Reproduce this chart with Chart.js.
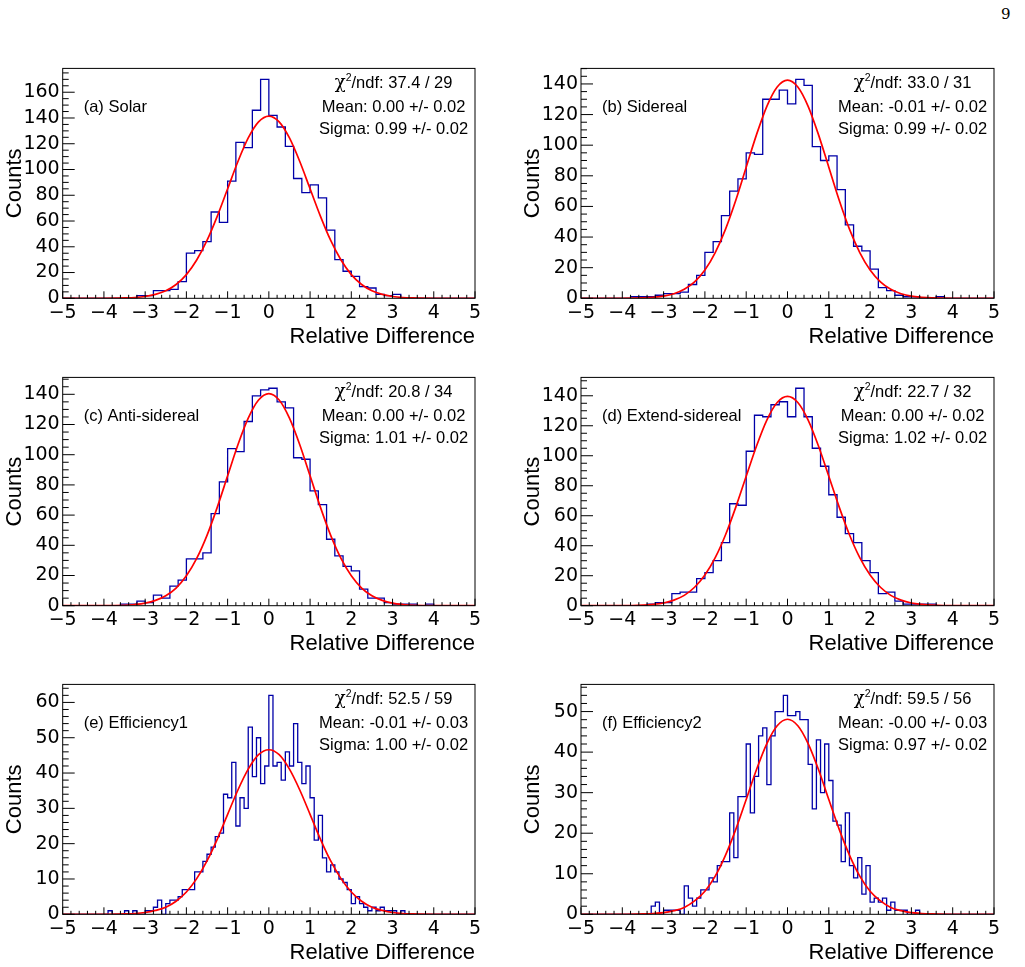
<!DOCTYPE html>
<html>
<head>
<meta charset="utf-8">
<script src="https://cdn.jsdelivr.net/npm/chart.js@4.4.1/dist/chart.umd.min.js"></script>
<style>
  html, body { margin: 0; padding: 0; background: #fff; }
  body { width: 1025px; height: 967px; position: relative; overflow: hidden; }
  canvas { position: absolute; }
  #pagenum { position: absolute; left: 1001px; top: 5px; font: 15px "DejaVu Serif", "Liberation Serif", serif; }
</style>
</head>
<body>
<div id="pagenum">9</div>
<script>
// histogram range, all panels
const xRange = [-5, 5];

// counts per bin (50 bins of 0.2 for a-d, 100 bins of 0.1 for e-f)
const solarCounts = [
  0, 0, 0, 0, 0, 0, 0, 0, 0, 2,
  2, 6, 6, 7, 13, 35, 37, 44, 67, 59,
  91, 121, 117, 146, 170, 142, 133, 118, 93, 82,
  88, 78, 53, 30, 21, 17, 9, 8, 3, 2,
  3, 0, 0, 0, 0, 0, 0, 0, 0, 0
];
const siderealCounts = [
  0, 0, 0, 0, 0, 0, 1, 1, 1, 2,
  3, 3, 4, 9, 15, 30, 37, 54, 70, 78,
  95, 94, 130, 130, 136, 127, 143, 139, 99, 90,
  93, 71, 48, 34, 31, 19, 7, 5, 2, 1,
  1, 0, 0, 1, 0, 0, 0, 0, 0, 0
];
const antiCounts = [
  0, 0, 0, 0, 0, 0, 0, 1, 1, 3,
  2, 7, 5, 13, 17, 31, 31, 35, 61, 82,
  104, 102, 122, 139, 143, 144, 135, 131, 98, 97,
  76, 67, 44, 33, 26, 23, 11, 5, 5, 2,
  1, 1, 1, 0, 1, 0, 0, 0, 0, 0
];
const extendCounts = [
  0, 0, 0, 0, 0, 0, 0, 0, 1, 2,
  2, 8, 9, 9, 18, 22, 30, 42, 68, 67,
  103, 127, 126, 134, 136, 126, 145, 126, 105, 93,
  74, 59, 48, 42, 30, 22, 8, 9, 3, 1,
  1, 1, 1, 0, 0, 0, 0, 0, 0, 0
];
const eff1Counts = [
  0, 0, 0, 0, 0, 0, 0, 0, 0, 0,
  0, 1, 0, 0, 0, 1, 0, 1, 0, 0,
  1, 1, 2, 4, 0, 3, 4, 4, 5, 7,
  7, 7, 12, 12, 15, 17, 19, 22, 23, 34,
  33, 43, 25, 33, 30, 53, 39, 50, 37, 42,
  62, 42, 43, 38, 46, 42, 54, 43, 37, 42,
  33, 21, 28, 16, 12, 14, 12, 10, 9, 7,
  3, 5, 3, 2, 1, 2, 1, 2, 1, 1,
  1, 0, 1, 0, 0, 0, 0, 0, 0, 0,
  0, 0, 0, 0, 0, 0, 0, 0, 0, 0
];
const eff2Counts = [
  0, 0, 0, 0, 0, 0, 0, 0, 0, 0,
  0, 0, 0, 0, 0, 0, 0, 2, 3, 0,
  1, 1, 1, 1, 0, 7, 4, 2, 4, 6,
  6, 9, 8, 12, 13, 13, 25, 14, 29, 29,
  42, 25, 34, 44, 46, 32, 44, 50, 50, 54,
  49, 49, 50, 48, 48, 37, 26, 43, 30, 42,
  33, 23, 22, 13, 25, 12, 9, 14, 5, 12,
  3, 4, 3, 4, 1, 3, 1, 1, 1, 0,
  0, 1, 0, 0, 0, 0, 0, 0, 0, 0,
  0, 0, 0, 0, 0, 0, 0, 0, 0, 0
];

// red fit curves at these x
const fitX = [-5, -4, -3.5, -3.25, -3, -2.75, -2.5, -2.25, -2, -1.75, -1.5, -1.25, -1, -0.75, -0.5, -0.25,
  0, 0.25, 0.5, 0.75, 1, 1.25, 1.5, 1.75, 2, 2.25, 2.5, 2.75, 3, 3.25, 3.5, 4, 5];
const solarFit = [0, 0, 0.3, 0.6, 1.4, 3.0, 5.8, 10.7, 18.4, 29.7, 44.9, 63.8, 85.0, 106.2, 124.5, 137.0,
  141.5, 137.0, 124.5, 106.2, 85.0, 63.8, 44.9, 29.7, 18.4, 10.7, 5.8, 3.0, 1.4, 0.6, 0.3, 0, 0];
const siderealFit = [0, 0, 0.3, 0.7, 1.4, 3.0, 5.9, 10.8, 18.5, 29.9, 45.2, 64.2, 85.6, 106.9, 125.4, 138.0,
  142.5, 138.0, 125.4, 106.9, 85.6, 64.2, 45.2, 29.9, 18.5, 10.8, 5.9, 3.0, 1.4, 0.7, 0.3, 0, 0];
const antiFit = [0, 0, 0.3, 0.8, 1.7, 3.5, 6.6, 11.7, 19.8, 31.3, 46.6, 65.3, 86.0, 106.6, 124.2, 136.2,
  140.4, 136.2, 124.2, 106.6, 86.0, 65.3, 46.6, 31.3, 19.8, 11.7, 6.6, 3.5, 1.7, 0.8, 0.3, 0, 0];
const extendFit = [0, 0, 0.4, 0.9, 1.8, 3.7, 6.9, 12.3, 20.4, 32.0, 47.3, 65.9, 86.3, 106.5, 123.8, 135.5,
  139.6, 135.5, 123.8, 106.5, 86.3, 65.9, 47.3, 32.0, 20.4, 12.3, 6.9, 3.7, 1.8, 0.9, 0.4, 0, 0];
const eff1Fit = [0, 0, 0.1, 0.2, 0.5, 1.1, 2.0, 3.7, 6.3, 10.1, 15.1, 21.3, 28.3, 35.2, 41.1, 45.2,
  46.6, 45.2, 41.1, 35.2, 28.3, 21.3, 15.1, 10.1, 6.3, 3.7, 2.0, 1.1, 0.5, 0.2, 0.1, 0, 0];
const eff2Fit = [0, 0, 0.1, 0.2, 0.4, 0.9, 1.7, 3.3, 5.7, 9.4, 14.6, 21.0, 28.3, 35.7, 42.1, 46.5,
  48.1, 46.5, 42.1, 35.7, 28.3, 21.0, 14.6, 9.4, 5.7, 3.3, 1.7, 0.9, 0.4, 0.2, 0.1, 0, 0];

// texts
const panelLabels = ['(a) Solar', '(b) Sidereal', '(c) Anti-sidereal', '(d) Extend-sidereal', '(e) Efficiency1', '(f) Efficiency2'];
const chiNdf = ['37.4 / 29', '33.0 / 31', '20.8 / 34', '22.7 / 32', '52.5 / 59', '59.5 / 56'];
const meanText = ['0.00 +/- 0.02', '-0.01 +/- 0.02', '0.00 +/- 0.02', '0.00 +/- 0.02', '-0.01 +/- 0.03', '-0.00 +/- 0.03'];
const sigmaText = ['0.99 +/- 0.02', '0.99 +/- 0.02', '1.01 +/- 0.02', '1.02 +/- 0.02', '1.00 +/- 0.02', '0.97 +/- 0.02'];

// y axes
const yMaxes = [178.5, 150.15, 151.2, 152.25, 65.1, 56.7];
const yMajor = [20, 20, 20, 20, 10, 10];
const yMinor = [5, 5, 5, 5, 2, 2];

const allCounts = [solarCounts, siderealCounts, antiCounts, extendCounts, eff1Counts, eff2Counts];
const allFits = [solarFit, siderealFit, antiFit, extendFit, eff1Fit, eff2Fit];

// page geometry
const cols = [
  { left: 0, plotLeft: 62.7, plotRight: 475, titlePad: 2 },
  { left: 515, plotLeft: 581, plotRight: 994, titlePad: 5 }
];
const rows = [
  { top: 66.7, bottom: 298.3 },
  { top: 375, bottom: 605.7 },
  { top: 682.3, bottom: 914.3 }
];
const canvasW = 505;
const xAxisH = 51.7;

const FONT = '"Liberation Sans", Arial, Helvetica, sans-serif';
const TICKFONT = '"DejaVu Sans", "Liberation Sans", sans-serif';
Chart.defaults.font.family = FONT;
Chart.defaults.color = '#000';

function histPoints(counts) {
  const w = (xRange[1] - xRange[0]) / counts.length;
  const pts = counts.map((c, i) => ({ x: xRange[0] + i * w, y: c }));
  pts.push({ x: xRange[1], y: counts[counts.length - 1] });
  return pts;
}

function stepTicks(min, max, step) {
  const out = [];
  const n = Math.round((max - min) / step + 1e-9);
  for (let i = 0; i <= n; i++) {
    const v = +(min + i * step).toFixed(6);
    if (v <= max + 1e-9) out.push(v);
  }
  return out;
}

function isMultiple(v, m) {
  const r = v / m;
  return Math.abs(r - Math.round(r)) < 1e-6;
}

const rootDecor = {
  id: 'rootDecor',
  afterDatasetsDraw(chart, args, o) {
    const { ctx, chartArea: a, scales: { x, y } } = chart;
    ctx.save();
    ctx.strokeStyle = '#000';
    ctx.lineWidth = 1;
    ctx.beginPath();
    x.ticks.forEach(t => {
      const px = x.getPixelForValue(t.value);
      const len = isMultiple(t.value, 1) ? 7 : 3.5;
      ctx.moveTo(px, a.bottom);
      ctx.lineTo(px, a.bottom - len);
    });
    y.ticks.forEach(t => {
      const py = y.getPixelForValue(t.value);
      const len = isMultiple(t.value, o.major) ? 12 : 6;
      ctx.moveTo(a.left, py);
      ctx.lineTo(a.left + len, py);
    });
    ctx.stroke();
    ctx.strokeRect(a.left, a.top, a.right - a.left, a.bottom - a.top);

    // label and fit box
    ctx.fillStyle = '#000';
    ctx.textBaseline = 'alphabetic';
    ctx.textAlign = 'left';
    const f = '16.5px ' + FONT;
    ctx.font = f;
    ctx.fillText(o.label, a.left + 21, a.top + 43.3);

    const cx = a.right - 81.4;
    const chiFont = '18px "DejaVu Serif", "Liberation Serif", serif';
    const supFont = '10.5px ' + FONT;
    const rest = '/ndf: ' + o.chi;
    ctx.font = chiFont; const w1 = ctx.measureText('\u03C7').width;
    ctx.font = supFont; const w2 = ctx.measureText('2').width;
    ctx.font = f; const w3 = ctx.measureText(rest).width;
    let sx = cx - (w1 + w2 + w3) / 2;
    const b1 = a.top + 19.3;
    ctx.font = chiFont; ctx.fillText('\u03C7', sx, b1); sx += w1;
    ctx.font = supFont; ctx.fillText('2', sx, b1 - 6.5); sx += w2;
    ctx.font = f; ctx.fillText(rest, sx, b1);

    ctx.textAlign = 'center';
    ctx.fillText('Mean: ' + o.mean, cx, a.top + 43.3);
    ctx.fillText('Sigma: ' + o.sigma, cx, a.top + 65.5);
    ctx.restore();
  }
};

allCounts.forEach((counts, k) => {
  const col = cols[k % 2];
  const row = rows[Math.floor(k / 2)];
  const cTop = Math.floor(row.top - 12);
  const cH = Math.ceil(row.bottom + xAxisH) - cTop;

  const canvas = document.createElement('canvas');
  canvas.width = canvasW;
  canvas.height = cH;
  canvas.style.left = col.left + 'px';
  canvas.style.top = cTop + 'px';
  document.body.appendChild(canvas);

  const xTickVals = stepTicks(xRange[0], xRange[1], 0.2);
  const yTickVals = stepTicks(0, yMaxes[k], yMinor[k]);

  new Chart(canvas, {
    type: 'line',
    data: {
      datasets: [
        {
          data: fitX.map((x, i) => ({ x: x, y: allFits[k][i] })),
          borderColor: '#ff0000',
          borderWidth: 1.7,
          pointRadius: 0,
          cubicInterpolationMode: 'monotone',
          fill: false
        },
        {
          data: histPoints(counts),
          borderColor: '#0000a8',
          borderWidth: 1.3,
          pointRadius: 0,
          stepped: 'before',
          fill: false
        }
      ]
    },
    options: {
      responsive: false,
      animation: false,
      devicePixelRatio: 1,
      layout: {
        padding: {
          left: 0,
          top: row.top - cTop,
          right: canvasW - (col.plotRight - col.left),
          bottom: cH - (row.bottom + xAxisH - cTop)
        }
      },
      plugins: {
        legend: { display: false },
        tooltip: { enabled: false },
        rootDecor: {
          label: panelLabels[k], chi: chiNdf[k], mean: meanText[k], sigma: sigmaText[k], major: yMajor[k]
        }
      },
      scales: {
        x: {
          type: 'linear',
          min: xRange[0],
          max: xRange[1],
          afterBuildTicks: s => { s.ticks = xTickVals.map(v => ({ value: v })); },
          afterFit: s => { s.height = xAxisH; },
          grid: { display: false, drawTicks: false },
          border: { display: false },
          ticks: {
            autoSkip: false,
            maxRotation: 0,
            padding: 3,
            font: { family: TICKFONT, size: 19 },
            callback: v => isMultiple(v, 1) ? (Math.round(v) < 0 ? '\u2212' + Math.abs(Math.round(v)) : String(Math.round(v))) : ''
          },
          title: { display: true, text: 'Relative Difference', align: 'end', font: { size: 22 }, padding: 0 }
        },
        y: {
          type: 'linear',
          min: 0,
          max: yMaxes[k],
          afterBuildTicks: s => { s.ticks = yTickVals.map(v => ({ value: v })); },
          afterFit: s => { s.width = col.plotLeft - col.left; },
          grid: { display: false, drawTicks: false },
          border: { display: false },
          ticks: {
            autoSkip: false,
            padding: 3,
            font: { family: TICKFONT, size: 19 },
            callback: v => isMultiple(v, yMajor[k]) ? String(Math.round(v)) : ''
          },
          title: { display: true, text: 'Counts', font: { size: 22 }, padding: { top: col.titlePad, bottom: 0 } }
        }
      }
    },
    plugins: [rootDecor]
  });
});
</script>
</body>
</html>
